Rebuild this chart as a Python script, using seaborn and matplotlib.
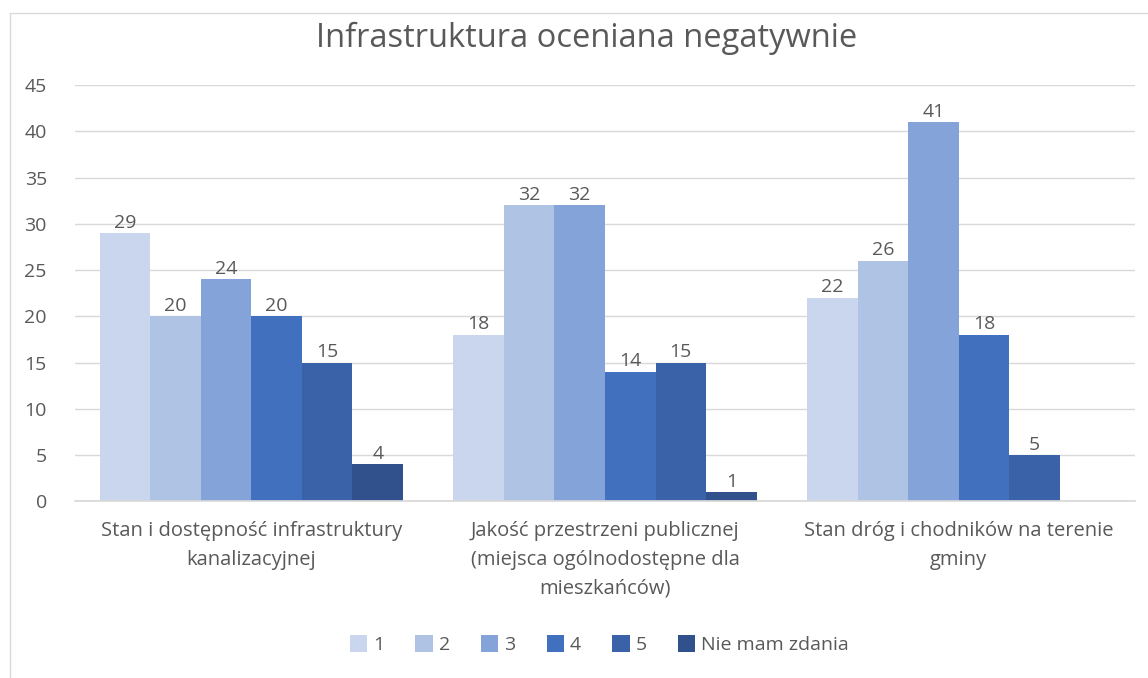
import numpy as np
import pandas as pd
import matplotlib
matplotlib.use("Agg")
import matplotlib.pyplot as plt
import seaborn as sns
from matplotlib.patches import Rectangle

categories = [
    "Stan i dostępność infrastruktury\nkanalizacyjnej",
    "Jakość przestrzeni publicznej\n(miejsca ogólnodostępne dla\nmieszkańców)",
    "Stan dróg i chodników na terenie\ngminy",
]
ratings = ["1", "2", "3", "4", "5", "Nie mam zdania"]
vals_1 = [29, 18, 22]
vals_2 = [20, 32, 26]
vals_3 = [24, 32, 41]
vals_4 = [20, 14, 18]
vals_5 = [15, 15, 5]
vals_nie = [4, 1, np.nan]

palette = ["#CAD6EE", "#AFC3E5", "#84A3D9", "#4170BE", "#3A62A8", "#30518C"]
text_col = "#595959"

rows = []
for r, vals in zip(ratings, [vals_1, vals_2, vals_3, vals_4, vals_5, vals_nie]):
    for c, v in zip(categories, vals):
        rows.append({"kategoria": c, "ocena": r, "n": v})
df = pd.DataFrame(rows)

sns.set_theme(style="white")
plt.rcParams["font.family"] = ["Open Sans", "DejaVu Sans"]

fig = plt.figure(figsize=(11.48, 6.78), dpi=100)
ax = fig.add_axes([0.065, 0.2605, 0.924, 0.614])

sns.barplot(data=df, x="kategoria", y="n", hue="ocena", order=categories,
            hue_order=ratings, palette=palette, width=6 / 7, gap=0,
            saturation=1, ax=ax, legend=True, linewidth=0)

# etykiety danych
for cont in ax.containers:
    labels = ["" if np.isnan(v) else f"{v:.0f}" for v in cont.datavalues]
    ax.bar_label(cont, labels=labels, padding=1, fontsize=14, color=text_col)

ax.set_ylim(0, 45)
ax.set_yticks(range(0, 46, 5))
ax.set_xlim(-0.5, 2.5)
ax.yaxis.grid(True, color="#D9D9D9", linewidth=1)
ax.set_axisbelow(True)
for s in ["top", "right", "left"]:
    ax.spines[s].set_visible(False)
ax.spines["bottom"].set_color("#D9D9D9")
ax.tick_params(axis="y", length=0, labelsize=14, colors=text_col, pad=20)
ax.tick_params(axis="x", length=0, labelsize=14.5, colors=text_col, pad=14)
for lab in ax.get_xticklabels():
    lab.set_linespacing(1.6)
ax.set_xlabel("")
ax.set_ylabel("")

# legenda na dole
handles, labels = ax.get_legend_handles_labels()
ax.get_legend().remove()
fig.legend(handles, labels, loc="center", bbox_to_anchor=(0.522, 0.049),
           ncol=6, frameon=False, fontsize=14, labelcolor=text_col,
           handlelength=0.9, handleheight=0.9, handletextpad=0.3,
           columnspacing=1.6)

fig.suptitle("Infrastruktura oceniana negatywnie", x=0.511, y=0.944,
             fontsize=23.5, color=text_col, va="center")

# ramka wykresu
fig.patches.append(Rectangle((10 / 1148, -0.01), 1.05, 1 - 13 / 678 + 0.01,
                             transform=fig.transFigure, fill=False,
                             edgecolor="#D9D9D9", linewidth=1))

fig.savefig("out.png", dpi=100, facecolor="white")
